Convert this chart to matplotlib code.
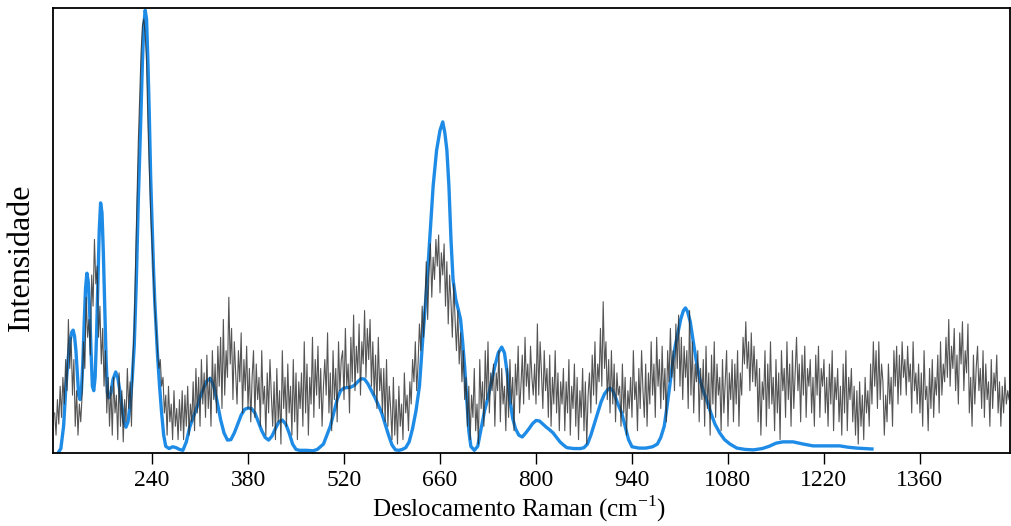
import matplotlib
matplotlib.use("Agg")
import matplotlib.pyplot as plt
import numpy as np

plt.rcParams["font.family"] = ["Liberation Serif", "DejaVu Serif"]
plt.rcParams["mathtext.fontset"] = "custom"
plt.rcParams["mathtext.rm"] = "Liberation Serif"

# ajuste suavizado (linha azul)
fit_shift = [103, 107, 111, 114, 117, 120, 123, 125, 127, 129, 131, 133, 135, 137, 139,
             141, 143, 145, 147, 149, 151, 153, 155, 157, 159, 161, 163, 165, 167, 169,
             171, 173, 175, 177, 180, 183, 187, 190, 193, 196, 199, 202, 205, 208, 211,
             214, 217, 220, 223, 226, 228, 230, 232, 234, 236, 238, 240, 242, 244, 246,
             248, 251, 254, 257, 260, 265, 270, 275, 280, 285, 290, 295, 300, 305, 310,
             315, 320, 325, 330, 335, 340, 345, 350, 355, 360, 365, 370, 375, 380, 385,
             390, 395, 400, 405, 410, 415, 420, 425, 430, 435, 440, 445, 450, 455, 465,
             475, 481, 490, 500, 505, 510, 515, 520, 525, 530, 535, 540, 545, 550, 555,
             560, 565, 570, 575, 580, 585, 590, 595, 600, 605, 610, 615, 620, 625, 630,
             635, 640, 645, 650, 655, 660, 664, 667, 670, 673, 676, 679, 683, 687, 690,
             693, 696, 699, 702, 705, 710, 715, 720, 725, 730, 735, 740, 745, 750, 754,
             758, 762, 766, 770, 775, 780, 785, 790, 795, 800, 805, 810, 815, 820, 825,
             830, 835, 840, 845, 855, 865, 870, 875, 880, 885, 890, 895, 900, 905, 908,
             912, 916, 920, 925, 930, 935, 940, 950, 960, 970, 977, 982, 987, 991, 995,
             999, 1003, 1007, 1011, 1015, 1018, 1021, 1025, 1029, 1034, 1039, 1044, 1049,
             1055, 1061, 1068, 1075, 1083, 1093, 1105, 1117, 1130, 1140, 1150, 1160, 1175,
             1190, 1204, 1220, 1243, 1255, 1268, 1280, 1290]
fit_int = [0, 10, 60, 140, 200, 250, 272, 276, 262, 230, 180, 130, 120, 140, 200,
           290, 370, 404, 385, 320, 230, 150, 140, 170, 260, 380, 500, 562, 540, 450,
           330, 210, 135, 124, 135, 165, 182, 170, 140, 105, 70, 58, 70, 110, 165,
           240, 380, 569, 720, 880, 960, 995, 975, 880, 760, 620, 520, 420, 340, 280,
           220, 150, 90, 40, 15, 10, 14, 12, 8, 6, 25, 58, 80, 100, 125,
           145, 162, 168, 150, 115, 75, 45, 29, 30, 45, 65, 85, 98, 101, 100,
           90, 70, 50, 35, 29, 38, 55, 70, 74, 65, 45, 20, 8, 6, 6,
           5, 8, 20, 60, 90, 120, 140, 146, 147, 148, 152, 160, 167, 166, 155,
           140, 125, 108, 90, 65, 40, 18, 7, 6, 8, 12, 25, 55, 95, 150,
           260, 360, 480, 600, 680, 725, 744, 720, 681, 600, 480, 390, 345, 320, 300,
           250, 193, 120, 50, 15, 6, 15, 55, 95, 125, 160, 195, 225, 238, 225,
           180, 120, 78, 55, 40, 36, 45, 55, 66, 73, 72, 65, 58, 52, 45,
           35, 25, 18, 12, 10, 10, 12, 20, 40, 65, 90, 115, 133, 143, 146,
           140, 125, 108, 90, 60, 30, 14, 11, 11, 14, 20, 35, 60, 103, 150,
           200, 240, 270, 300, 320, 326, 318, 295, 254, 205, 165, 140, 119,
           90, 65, 45, 30, 20, 11, 8, 7, 10, 15, 22, 25, 25,
           20, 16, 16, 16, 13, 11, 10, 9]

# espectro medido (linha preta), passo de 2 cm-1 a partir de 98
raw_start = 98
raw_step = 2
raw_int = [
    90, 40, 120, 65, 150, 80, 170, 110, 210, 140,
    300, 190, 260, 130, 210, 60, 140, 40, 110, 70,
    130, 250, 190, 350, 260, 300, 220, 400, 330, 480,
    380, 420, 260, 330, 200, 280, 150, 230, 90, 170,
    60, 150, 40, 170, 90, 130, 30, 180, 60, 140,
    25, 120, 70, 190, 100, 160, 60, 210, 280, 430,
    560, 700, 800, 900, 960, 975, 940, 880, 740, 640,
    540, 470, 400, 330, 280, 230, 190, 210, 150, 170,
    90, 130, 40, 150, 70, 110, 30, 140, 60, 100,
    30, 120, 50, 140, 30, 130, 60, 150, 40, 110,
    70, 160, 50, 190, 90, 170, 60, 210, 110, 180,
    80, 220, 100, 170, 60, 230, 120, 200, 90, 240,
    150, 260, 100, 300, 130, 230, 170, 350, 200, 280,
    120, 250, 180, 110, 230, 160, 270, 90, 210, 140,
    240, 100, 190, 70, 170, 230, 80, 200, 120, 170,
    60, 230, 110, 150, 40, 180, 90, 210, 130, 60,
    160, 30, 190, 70, 140, 20, 230, 100, 170, 60,
    200, 90, 150, 40, 210, 70, 180, 30, 160, 100,
    180, 60, 250, 90, 200, 40, 170, 110, 260, 80,
    210, 130, 240, 100, 190, 60, 150, 210, 130, 270,
    90, 180, 50, 230, 120, 190, 70, 250, 140, 210,
    230, 120, 280, 150, 200, 90, 260, 160, 310, 140,
    240, 180, 290, 130, 250, 200, 320, 170, 280, 210,
    300, 150, 250, 130, 220, 100, 260, 140, 190, 90,
    190, 70, 210, 60, 150, 100, 30, 170, 40, 120,
    20, 150, 60, 110, 30, 180, 90, 130, 50, 160,
    110, 210, 160, 250, 140, 200, 290, 230, 330, 260,
    340, 430, 300, 410, 470, 350, 440, 390, 480, 420,
    490, 360, 450, 400, 470, 330, 430, 290, 400, 340,
    260, 380, 300, 230, 320, 200, 270, 160, 230, 120,
    170, 60, 150, 30, 130, 80, 190, 50, 110, 20,
    210, 100, 160, 60, 230, 120, 250, 90, 180, 140,
    200, 60, 180, 140, 230, 70, 190, 110, 150, 50,
    190, 80, 210, 110, 170, 50, 200, 130, 240, 90,
    150, 220, 110, 260, 150, 200, 120, 240, 170, 130,
    200, 110, 290, 130, 250, 180, 100, 230, 140, 190,
    80, 220, 60, 170, 110, 230, 90, 180, 50, 160,
    110, 190, 50, 160, 90, 210, 40, 150, 100, 200,
    60, 170, 30, 140, 80, 190, 50, 160, 20, 130,
    180, 90, 220, 130, 250, 110, 200, 160, 280, 150,
    340, 190, 250, 120, 210, 90, 230, 110, 200, 70,
    180, 130, 150, 60, 200, 90, 170, 40, 140, 100,
    170, 80, 230, 120, 160, 50, 190, 100, 230, 140,
    80, 200, 60, 180, 110, 250, 130, 200, 80, 260,
    150, 210, 100, 240, 120, 190, 70, 230, 160, 280,
    170, 230, 140, 290, 190, 310, 150, 260, 120, 240,
    170, 230, 100, 320, 130, 250, 90, 200, 160, 230,
    70, 190, 120, 210, 60, 240, 100, 180, 40, 220,
    110, 250, 80, 200, 130, 170, 50, 210, 90, 160,
    230, 60, 180, 120, 210, 70, 200, 110, 230, 60,
    180, 130, 260, 200, 295, 190, 250, 140, 270, 160,
    240, 150, 210, 70, 190, 40, 160, 120, 230, 60,
    200, 100, 250, 110, 170, 50, 210, 90, 180, 30,
    230, 140, 190, 80, 250, 120, 200, 60, 230, 100,
    180, 260, 140, 200, 70, 220, 130, 240, 80, 190,
    150, 210, 90, 170, 60, 220, 130, 240, 80, 190,
    150, 210, 90, 170, 60, 200, 110, 230, 50, 170,
    120, 190, 70, 150, 40, 200, 90, 230, 50, 170,
    120, 190, 70, 150, 40, 140, 20, 160, 60, 130,
    30, 170, 90, 140, 60, 200, 110, 250, 150, 230,
    100, 250, 120, 200, 160, 40, 130, 70, 200, 110,
    170, 60, 230, 150, 240, 110, 220, 130, 250, 170,
    210, 130, 240, 160, 200, 90, 250, 140, 180, 110,
    200, 90, 180, 60, 230, 120, 150, 50, 190, 100,
    210, 80, 170, 130, 220, 90, 250, 130, 200, 160,
    260, 170, 300, 150, 240, 190, 280, 140, 220, 110,
    270, 200, 295, 140, 230, 180, 290, 90, 170, 60,
    220, 110, 190, 240, 140, 190, 100, 230, 80, 200,
    120, 160, 60, 210, 100, 180, 140, 220, 90, 160,
    60, 150, 90, 170, 110, 140, 120,
]
raw_shift = raw_start + raw_step * np.arange(len(raw_int))

xticks = [240, 380, 520, 660, 800, 940, 1080, 1220, 1360]

fig = plt.figure(figsize=(10.12, 5.26), dpi=100)
ax = fig.add_axes([0.0524, 0.1388, 0.9456, 0.846])

ax.plot(fit_shift, fit_int, color="#1e8ce6", lw=2.4, zorder=2,
        solid_joinstyle="round")
ax.plot(raw_shift, raw_int, color="#2a2a2a", lw=0.8, alpha=0.8, zorder=3)

ax.set_xlim(95.6, 1491.3)
ax.set_ylim(0, 1000)
ax.set_xticks(xticks)
ax.set_yticks([])
ax.tick_params(axis="x", direction="out", length=8, width=1, pad=4, labelsize=17)
for side in ["left", "bottom", "top", "right"]:
    ax.spines[side].set_linewidth(1.3)

# rótulo do eixo x posicionado pela linha de base
fig.text(0.5133, 0.017, r"Deslocamento Raman (cm$^{\mathregular{-1}}$)",
         fontsize=18, ha="center", va="baseline")
ax.set_ylabel("Intensidade", fontsize=23)
ax.yaxis.set_label_coords(-0.0178, 0.44)

fig.savefig("out.png", dpi=100)
